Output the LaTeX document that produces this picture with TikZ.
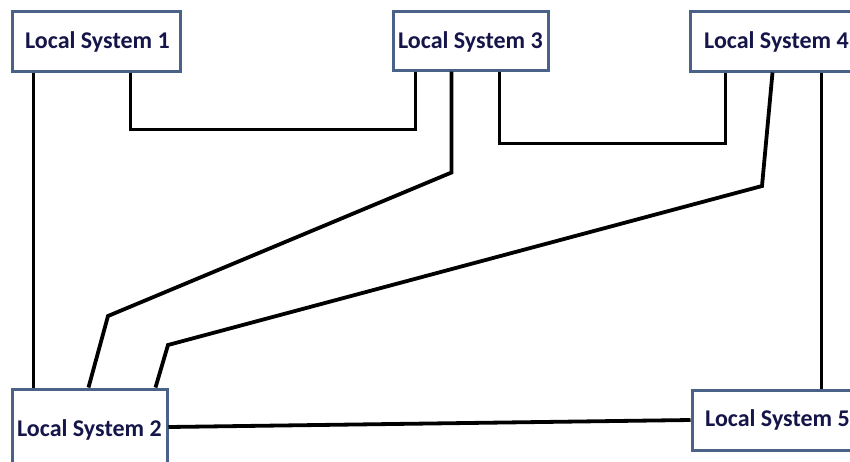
\documentclass[tikz,border=0pt]{standalone}
\usepackage{fontspec}
\setmainfont{Carlito}
\definecolor{boxline}{HTML}{4A6288}
\definecolor{boxtext}{HTML}{15154A}
\begin{document}
\begin{tikzpicture}[x=1pt,y=-1pt,
  sysbox/.style={draw=boxline, line width=3pt, fill=white, inner sep=0pt},
  systext/.style={inner sep=0pt, anchor=west, text=boxtext,
    font=\bfseries\fontsize{24}{28}\selectfont},
  link/.style={line width=3.8pt, black, line join=miter}]
\clip (0,0) rectangle (850,461);
\fill[white] (0,0) rectangle (850,461);

% the five systems
\node[sysbox, minimum width=168pt, minimum height=60pt] (ls1) at (96,41) {};
\node[sysbox, minimum width=155pt, minimum height=59pt] (ls3) at (470.5,40.5) {};
\node[sysbox, minimum width=168pt, minimum height=60pt] (ls4) at (774,41) {};
\node[sysbox, minimum width=155pt, minimum height=86pt] (ls2) at (89.5,432) {};
\node[sysbox, minimum width=166pt, minimum height=60pt] (ls5) at (775,420) {};

\node[systext] (t1) at (25,42) {Local System 1};
\node[systext] (t3) at (398,42) {Local System 3};
\node[systext] (t4) at (704,42) {Local System 4};
\node[systext] (t2) at (17,430) {Local System 2};
\node[systext] (t5) at (705,420) {Local System 5};

% links between systems
\draw[link] ([xshift=23pt]ls1.south west) -- ([xshift=23pt]ls2.north west);
\draw[link] ([xshift=120pt]ls1.south west) -- ++(0,57) -| ([xshift=24pt]ls3.south west);
\draw[link] ([xshift=60pt]ls3.south west) -- ++(0,101) -- (108,316) -- ([xshift=78pt]ls2.north west);
\draw[link] ([xshift=108pt]ls3.south west) -- ++(0,72) -| ([xshift=37pt]ls4.south west);
\draw[link] ([xshift=84pt]ls4.south west) -- (762,186) -- (168,345) -- ([xshift=145pt]ls2.north west);
\draw[link] ([xshift=133pt]ls4.south west) -- ([xshift=131pt]ls5.north west);
\draw[link] ([yshift=5pt]ls2.east) -- (ls5.west);
\end{tikzpicture}
\end{document}
